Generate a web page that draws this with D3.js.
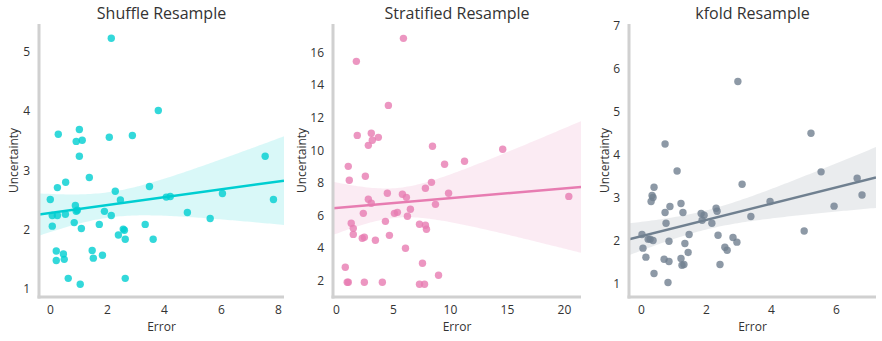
<!DOCTYPE html>
<html><head><meta charset="utf-8">
<script src="https://cdn.jsdelivr.net/npm/d3@7"></script>
<style>
body{margin:0;background:#fff;}
text{font-family:"Open Sans","Noto Sans",sans-serif;fill:#333;}
</style></head>
<body><svg id="c" width="882" height="341"></svg>
<script>
const titles = ["Shuffle Resample","Stratified Resample","kfold Resample"];
const xLabel = "Error", yLabel = "Uncertainty";

const shuffleX = [2.15,3.80,0.29,1.03,0.92,1.13,2.08,2.89,1.03,7.55,1.38,0.55,0.26,3.49,2.29,0.01,2.47,4.08,4.22,6.05,7.84,0.89,0.96,0.92,0.08,0.26,0.54,1.91,2.15,4.82,5.62,0.08,0.85,1.10,1.73,2.57,2.61,3.34,2.40,2.64,3.62,0.22,0.47,1.48,1.84,0.22,0.50,1.52,0.64,2.64,1.06];
const shuffleY = [5.23,4.01,3.61,3.69,3.49,3.51,3.56,3.59,3.24,3.24,2.88,2.80,2.71,2.73,2.65,2.51,2.50,2.55,2.56,2.61,2.51,2.41,2.33,2.31,2.24,2.24,2.26,2.31,2.24,2.29,2.19,2.06,2.12,2.02,2.09,2.01,1.99,2.09,1.91,1.84,1.84,1.64,1.59,1.65,1.57,1.48,1.50,1.52,1.18,1.18,1.08];

const stratX = [5.92,1.79,4.60,1.87,3.10,3.19,3.72,2.84,8.47,14.63,1.08,9.53,11.28,1.17,2.58,8.38,4.51,5.83,6.18,7.85,9.88,20.43,2.84,3.10,8.73,6.53,2.40,5.13,5.39,6.27,1.34,4.34,7.33,7.85,1.52,7.94,1.52,4.69,2.31,2.49,3.46,6.10,0.82,7.59,9.00,1.08,0.99,2.49,4.07,7.33,7.77];
const stratY = [16.86,15.45,12.75,10.91,11.04,10.61,10.79,10.30,10.24,10.06,9.01,9.14,9.32,8.16,8.40,8.03,7.36,7.30,7.11,7.67,7.36,7.17,6.99,6.75,6.68,6.38,6.13,6.13,6.19,5.95,5.52,5.64,5.46,5.40,5.21,5.15,4.84,4.78,4.60,4.66,4.48,3.99,2.82,3.07,2.33,1.90,1.90,1.90,1.90,1.78,1.78];

const kfoldX = [2.98,5.23,0.74,1.11,5.54,6.80,6.65,5.94,5.02,3.97,3.38,3.11,0.40,0.34,0.37,0.31,0.74,0.89,1.23,1.29,1.85,1.94,1.88,2.31,2.34,2.18,0.77,0.03,1.48,2.37,2.83,2.95,0.22,0.28,0.37,0.86,1.35,0.06,2.58,2.65,1.45,0.15,0.71,0.86,1.23,1.26,1.32,2.43,0.40,0.83];
const kfoldY = [5.71,4.50,4.25,3.62,3.60,3.06,3.45,2.80,2.22,2.91,2.56,3.31,3.24,3.05,3.00,2.91,2.65,2.79,2.86,2.65,2.63,2.59,2.47,2.75,2.68,2.40,2.40,2.14,2.14,2.12,2.07,1.96,2.03,2.03,2.00,1.98,1.93,1.82,1.84,1.77,1.72,1.61,1.56,1.51,1.58,1.42,1.44,1.44,1.23,1.02];

const xTicks = [[0,2,4,6,8],[0,5,10,15,20],[0,2,4,6]];
const yTicks = [[1,2,3,4,5],[2,4,6,8,10,12,14,16],[1,2,3,4,5,6,7]];
const xDomains = [[-0.386,8.21],[-0.26,21.5],[-0.37,7.23]];
const yDomains = [[0.865,5.47],[1.0,17.74],[0.68,7.05]];
const colors = ["#00ced1","#e77cb1","#708090"];

const panels = [
  {x:shuffleX,y:shuffleY,left:39,right:284},
  {x:stratX,y:stratY,left:333,right:581},
  {x:kfoldX,y:kfoldY,left:629,right:876}
];
const plotTop=24, plotBottom=297;
const svg = d3.select("#c");
const defs = svg.append("defs");

function fit(xs,ys){
  const n=xs.length, mx=d3.mean(xs), my=d3.mean(ys);
  let sxx=0,sxy=0; for(let i=0;i<n;i++){sxx+=(xs[i]-mx)**2; sxy+=(xs[i]-mx)*(ys[i]-my);}
  const b=sxy/sxx, a=my-b*mx;
  let sse=0; for(let i=0;i<n;i++){sse+=(ys[i]-a-b*xs[i])**2;}
  const s=Math.sqrt(sse/(n-2));
  return {a,b,band:(x)=>1.9*s*Math.sqrt(1/n+(x-mx)**2/sxx)};
}

panels.forEach((p,i)=>{
  const g = svg.append("g");
  const xs = d3.scaleLinear().domain(xDomains[i]).range([p.left,p.right]);
  const ys = d3.scaleLinear().domain(yDomains[i]).range([plotBottom,plotTop]);
  const col = colors[i];
  defs.append("clipPath").attr("id","clip"+i).append("rect")
    .attr("x",p.left).attr("y",plotTop).attr("width",p.right-p.left).attr("height",plotBottom-plotTop);

  const f = fit(p.x,p.y);
  const grid = d3.range(0,101).map(k=>xDomains[i][0]+(xDomains[i][1]-xDomains[i][0])*k/100);
  const cg = g.append("g").attr("clip-path",`url(#clip${i})`);
  cg.append("path").datum(grid)
    .attr("d",d3.area().x(d=>xs(d)).y0(d=>ys(f.a+f.b*d-f.band(d))).y1(d=>ys(f.a+f.b*d+f.band(d))))
    .attr("fill",col).attr("fill-opacity",0.15);
  cg.selectAll("circle").data(p.x.map((v,k)=>[v,p.y[k]])).join("circle")
    .attr("cx",d=>xs(d[0])).attr("cy",d=>ys(d[1])).attr("r",3.7)
    .attr("fill",col).attr("fill-opacity",0.8);
  cg.append("path").datum(xDomains[i])
    .attr("d",d3.line().x(d=>xs(d)).y(d=>ys(f.a+f.b*d)))
    .attr("stroke",col).attr("stroke-width",2.5).attr("fill","none");

  g.append("line").attr("x1",p.left).attr("x2",p.left).attr("y1",plotTop).attr("y2",plotBottom+1.5)
    .attr("stroke","#d0d0d0").attr("stroke-width",3);
  g.append("line").attr("x1",p.left-1.5).attr("x2",p.right).attr("y1",plotBottom).attr("y2",plotBottom)
    .attr("stroke","#d0d0d0").attr("stroke-width",3);

  const xa = g.append("g").attr("transform",`translate(0,${plotBottom})`)
    .call(d3.axisBottom(xs).tickValues(xTicks[i]).tickSize(0).tickPadding(8).tickFormat(d3.format("d")));
  xa.select(".domain").remove();
  xa.selectAll("text").attr("font-size",12).attr("fill","#333").attr("font-family","'Open Sans'");
  const ya = g.append("g").attr("transform",`translate(${p.left},0)`)
    .call(d3.axisLeft(ys).tickValues(yTicks[i]).tickSize(0).tickPadding(9).tickFormat(d3.format("d")));
  ya.select(".domain").remove();
  ya.selectAll("text").attr("font-size",12).attr("fill","#333").attr("font-family","'Open Sans'");

  g.append("text").attr("x",(p.left+p.right)/2).attr("y",19).attr("text-anchor","middle")
    .attr("font-size",16).text(titles[i]);
  g.append("text").attr("x",(p.left+p.right)/2).attr("y",331).attr("text-anchor","middle")
    .attr("font-size",12).text(xLabel);
  const yl = i===0?14:(i===1?302:605);
  g.append("text").attr("transform",`translate(${yl},${(plotTop+plotBottom)/2}) rotate(-90)`)
    .attr("text-anchor","middle").attr("dy","0.35em").attr("font-size",12).text(yLabel);
});
</script></body></html>
